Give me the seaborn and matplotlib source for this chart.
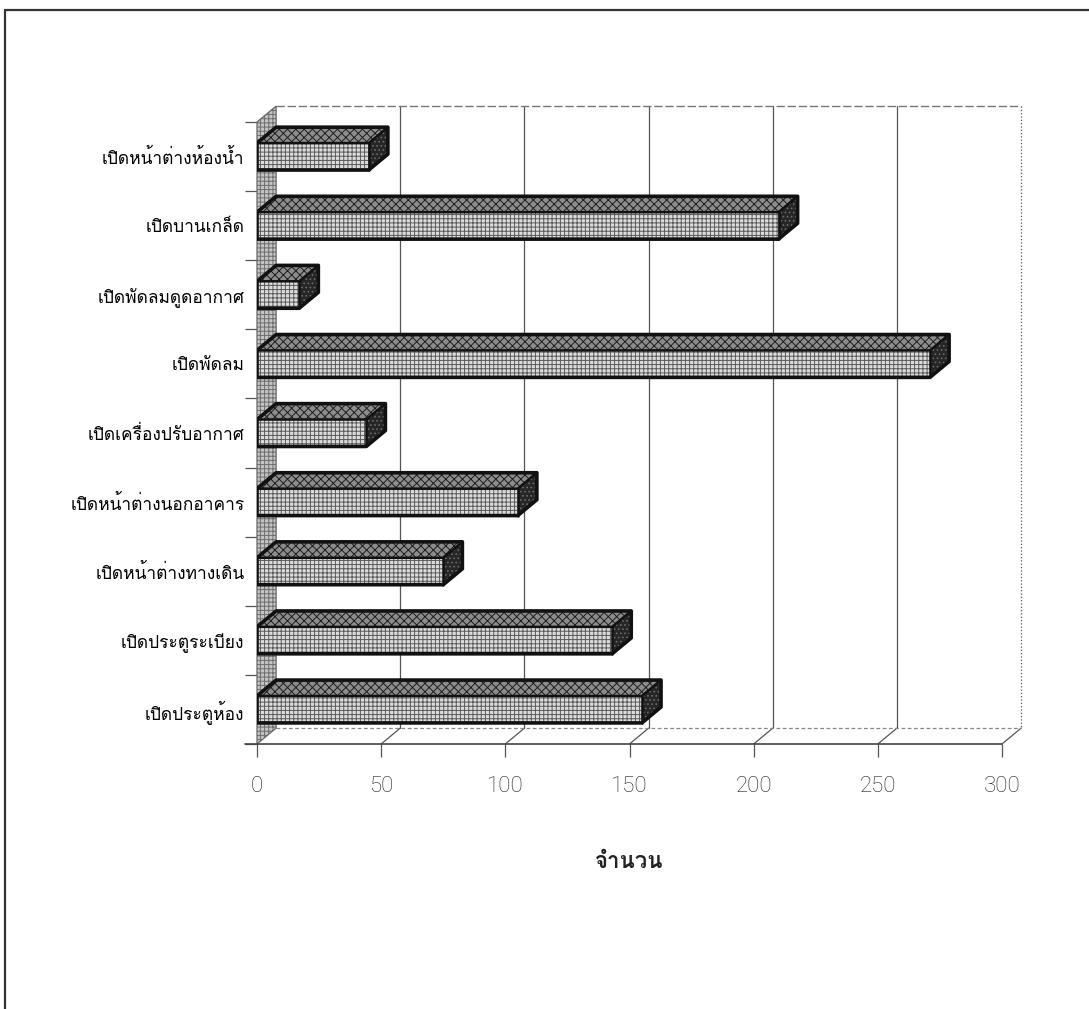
import numpy as np
import pandas as pd
import matplotlib
matplotlib.use("Agg")
import matplotlib.pyplot as plt
from matplotlib import font_manager
from matplotlib.ft2font import FT2Font
from matplotlib.patches import Polygon, Rectangle
from matplotlib.lines import Line2D
import seaborn as sns

# ---- data -------------------------------------------------------------
categories = [
    "เปิดหน้าต่างห้องน้ำ",
    "เปิดบานเกล็ด",
    "เปิดพัดลมดูดอากาศ",
    "เปิดพัดลม",
    "เปิดเครื่องปรับอากาศ",
    "เปิดหน้าต่างนอกอาคาร",
    "เปิดหน้าต่างทางเดิน",
    "เปิดประตูระเบียง",
    "เปิดประตูห้อง",
]
counts = [45, 210, 17, 271, 44, 105, 75, 143, 155]
x_ticks = [0, 50, 100, 150, 200, 250, 300]
x_title = "จำนวน"


def find_thai_family(default="DejaVu Sans"):
    """Return the first installed family that has Thai glyphs."""
    preferred = []
    others = []
    for f in font_manager.fontManager.ttflist:
        try:
            cmap = FT2Font(f.fname).get_charmap()
        except Exception:
            continue
        if 0x0E01 in cmap and 0x0E40 in cmap:
            if f.weight in (400, "normal", "regular") and f.style == "normal":
                preferred.append(f.name)
            else:
                others.append(f.name)
    for name in preferred + others:
        return name
    return default


sns.set_theme(style="white")
thai = find_thai_family()
plt.rcParams["font.family"] = [thai, "DejaVu Sans"]
plt.rcParams["hatch.linewidth"] = 0.7

df = pd.DataFrame({"category": categories, "count": counts})

W, H = 1089, 1009
fig = plt.figure(figsize=(W / 100, H / 100), dpi=100)
fig.patch.set_facecolor("white")

# page frame (top and left edges)
fig.add_artist(Line2D([5 / W, 5 / W], [0, 1 - 10 / H], color="#333", lw=1.6))
fig.add_artist(Line2D([5 / W, 1], [1 - 10 / H, 1 - 10 / H], color="#333", lw=1.6))

ax = fig.add_axes([257 / W, 1 - 744 / H, 745 / W, 622 / H])
ax.patch.set_visible(False)

BAR_H = 0.39
sns.barplot(data=df, x="count", y="category", orient="h", width=BAR_H,
            color="#dcdcdc", edgecolor="#5a5a5a", hatch="++++",
            linewidth=0, ax=ax, zorder=4)

ax.set_xlim(0, 300)
ax.set_ylim(8.5, -0.5)
for s in ax.spines.values():
    s.set_visible(False)

# depth offsets of the pseudo-3D box (data units)
DX, DY = 7.7, 0.23
top, bot = -0.5, 8.5

# left wall
wall = [(0, top), (DX, top - DY), (DX, bot - DY), (0, bot)]
ax.add_patch(Polygon(wall, closed=True, facecolor="#c4c4c4",
                     edgecolor="#6e6e6e", hatch="++++", lw=0, zorder=1,
                     clip_on=False))
ax.add_patch(Polygon(wall, closed=True, fill=False, edgecolor="#666",
                     lw=0.9, zorder=1.1, clip_on=False))

# back wall gridlines, top edge and floor
for v in x_ticks[1:]:
    ls = ":" if v == x_ticks[-1] else "-"
    ax.plot([v + DX, v + DX], [top - DY, bot - DY], color="#555", lw=0.9,
            ls=ls, zorder=1, clip_on=False)
    ax.plot([v, v + DX], [bot, bot - DY], color="#555", lw=0.9,
            zorder=1, clip_on=False)
ax.plot([DX, 300 + DX], [top - DY, top - DY], color="#777", lw=1.0,
        ls=(0, (6, 2)), zorder=1, clip_on=False)
ax.plot([DX, 300 + DX], [bot - DY, bot - DY], color="#888", lw=0.9,
        ls=(0, (3, 2)), zorder=1, clip_on=False)
ax.plot([-5, 300], [bot, bot], color="#444", lw=1.2, zorder=2, clip_on=False)

# 3D faces for each bar
for p in list(ax.patches):
    if not isinstance(p, Rectangle) or p.get_height() == 0:
        continue
    x0, w = p.get_x(), p.get_width()
    y0, h = p.get_y(), p.get_height()
    yt, yb = min(y0, y0 + h), max(y0, y0 + h)
    x1 = x0 + w
    top_face = [(x0, yt), (x0 + DX, yt - DY), (x1 + DX, yt - DY), (x1, yt)]
    side_face = [(x1, yt), (x1 + DX, yt - DY), (x1 + DX, yb - DY), (x1, yb)]
    ax.add_patch(Polygon(top_face, closed=True, facecolor="#8c8c8c",
                         edgecolor="#1e1e1e", hatch="xxxx", lw=0, zorder=5))
    ax.add_patch(Polygon(side_face, closed=True, facecolor="#262626",
                         edgecolor="#6a6a6a", hatch="....", lw=0, zorder=5))
    outline = [(x0, yb), (x0, yt), (x0 + DX, yt - DY), (x1 + DX, yt - DY),
               (x1 + DX, yb - DY), (x1, yb)]
    ax.add_patch(Polygon(outline, closed=True, fill=False,
                         edgecolor="#111", lw=2.6, zorder=6,
                         joinstyle="round"))
    ax.plot([x0, x1, x1 + DX], [yt, yt, yt - DY], color="#111", lw=1.8,
            zorder=6)
    ax.plot([x1, x1], [yt, yb], color="#111", lw=1.8, zorder=6)

# axes ticks and labels
ax.set_xticks(x_ticks)
ax.set_xticklabels([str(t) for t in x_ticks],
                   family=["Roboto", "Liberation Sans", "DejaVu Sans"],
                   fontsize=16, color="#222", fontweight="light")
ax.tick_params(axis="x", which="major", direction="out", length=9,
               width=0.9, color="#555", pad=14, bottom=True)
ax.set_yticks(range(len(categories)))
ax.set_yticklabels(categories, fontsize=12.5, color="#000")
ax.tick_params(axis="y", which="major", length=0, pad=9, left=False)
ax.set_yticks(np.arange(-0.5, len(categories), 1.0), minor=True)
ax.tick_params(axis="y", which="minor", length=9, width=0.9, color="#555",
               left=True, direction="out")
ax.set_ylabel("")
ax.set_xlabel(x_title, fontsize=16, fontweight="bold", color="#222",
              labelpad=40)
ax.grid(False)

fig.savefig("out.png", dpi=100, facecolor="white")
